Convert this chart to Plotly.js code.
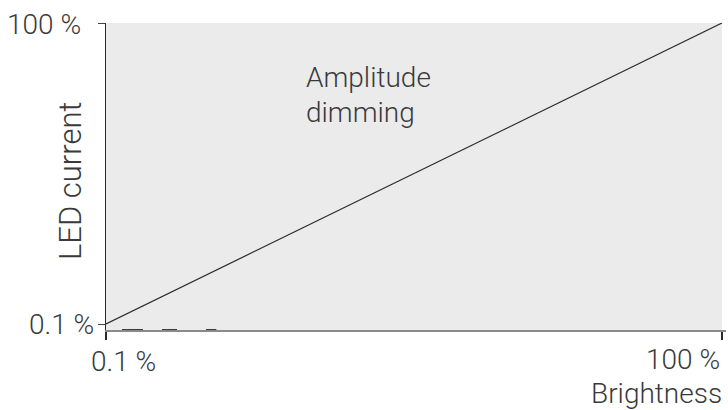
<!DOCTYPE html>
<html>
<head>
<meta charset="utf-8">
<script src="https://cdn.plot.ly/plotly-3.0.1.min.js"></script>
<style>html,body{margin:0;padding:0;background:#fff;}#chart{width:728px;height:410px;}</style>
</head>
<body>
<div id="chart"></div>
<script>
// Data
const brightness = [0.1, 100];        // % brightness (x)
const ledCurrent = [0.1, 100];        // % LED current (y)
const tickLabels = ["0.1 %", "100 %"];
const axisTitleX = "Brightness";
const axisTitleY = "LED current";
const regionLabel = ["Amplitude", "dimming"];
const lowDashX = [0.1, 18];           // dashed segment along the bottom axis

const yMin = -1.891;
const FONT = "Roboto, 'Open Sans', sans-serif";
const TXT = "#3a3a3a";

const traces = [
  {
    x: brightness, y: ledCurrent, type: "scatter", mode: "lines",
    line: {color: "#2a2a2a", width: 1.2}, hoverinfo: "skip", showlegend: false
  },
  {
    x: lowDashX, y: [yMin, yMin], type: "scatter", mode: "lines",
    line: {color: "#3a3a3a", width: 2.2, dash: "0px,16px,21px,19px,15px,29px,11px,200px"},
    hoverinfo: "skip", showlegend: false, cliponaxis: false
  }
];

function px2x(px){ return (px - 106) / 620; }
function px2y(py){ return (330 - py) / 307; }

const ann = (text, x, y, xa, ya, extra) => Object.assign({
  text: text, xref: "paper", yref: "paper", x: x, y: y, xanchor: xa, yanchor: ya,
  showarrow: false, borderpad: 0, font: {family: FONT, size: 28, color: TXT, weight: 300}
}, extra || {});

const layout = {
  width: 728, height: 410,
  margin: {l: 106, r: 2, t: 23, b: 80, pad: 0},
  paper_bgcolor: "#ffffff", plot_bgcolor: "#ffffff",
  showlegend: false,
  xaxis: {
    range: [0.1, 100.649], tickvals: brightness, showticklabels: false,
    ticks: "outside", ticklen: 8, tickwidth: 1.5, tickcolor: "#2a2a2a",
    showgrid: false, zeroline: false, showline: true, linecolor: "#8a8a8a", linewidth: 1.5,
    fixedrange: true
  },
  yaxis: {
    range: [yMin, 100], tickvals: ledCurrent, showticklabels: false,
    ticks: "outside", ticklen: 7, tickwidth: 1, tickcolor: "#444",
    showgrid: false, zeroline: false, showline: true, linecolor: "#2a2a2a", linewidth: 1.5,
    fixedrange: true
  },
  shapes: [
    {type: "rect", xref: "x", yref: "paper", x0: brightness[0], x1: brightness[1], y0: 0, y1: 1,
     fillcolor: "#ebebec", line: {width: 0}, layer: "below"}
  ],
  annotations: [
    ann(tickLabels[1], px2x(82), px2y(24), "right", "middle"),
    ann(tickLabels[0], px2x(95), px2y(324), "right", "middle"),
    ann(tickLabels[0], px2x(90), px2y(361), "left", "middle"),
    ann(tickLabels[1], px2x(721), px2y(359), "right", "middle"),
    ann(axisTitleX, px2x(723), px2y(393), "right", "middle"),
    ann(axisTitleY, px2x(70), px2y(181), "center", "middle", {textangle: -90, font: {family: FONT, size: 31, color: TXT, weight: 300}}),
    ann(regionLabel[0], px2x(305), px2y(77), "left", "middle"),
    ann(regionLabel[1], px2x(305), px2y(112), "left", "middle")
  ]
};

Plotly.newPlot("chart", traces, layout, {displayModeBar: false, staticPlot: true});
</script>
</body>
</html>
